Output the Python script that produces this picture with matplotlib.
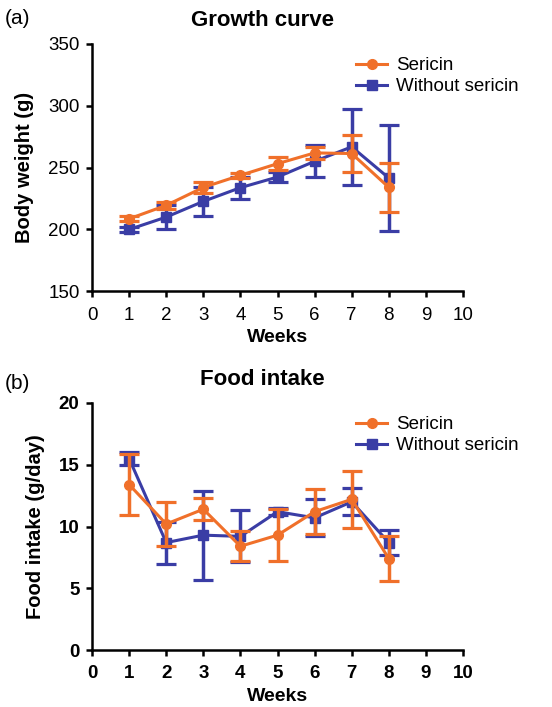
import matplotlib
matplotlib.use("Agg")
import matplotlib.pyplot as plt
from matplotlib.lines import Line2D

plt.rcParams['font.family'] = ['Liberation Sans', 'DejaVu Sans']

weeks = [1, 2, 3, 4, 5, 6, 7, 8]

bw_sericin = [208.6, 219.5, 234.0, 243.8, 253.2, 261.9, 261.4, 234.0]
bw_sericin_err = [2.0, 3.0, 4.5, 2.0, 5.5, 5.0, 15.0, 20.0]
bw_without = [200.0, 210.0, 222.7, 233.8, 242.4, 255.1, 266.8, 241.6]
bw_without_err = [2.0, 10.0, 12.0, 9.0, 4.0, 13.0, 31.0, 43.0]

fi_sericin = [13.4, 10.2, 11.4, 8.4, 9.3, 11.2, 12.2, 7.4]
fi_sericin_err = [2.5, 1.8, 0.9, 1.2, 2.1, 1.8, 2.3, 1.8]
fi_without = [15.5, 8.7, 9.3, 9.2, 11.2, 10.7, 12.0, 8.7]
fi_without_err = [0.5, 1.7, 3.6, 2.1, 0.3, 1.5, 1.1, 1.0]

labels = ['Sericin', 'Without sericin']

ORANGE = '#F0702A'
BLUE = '#3A3DA5'

fig = plt.figure(figsize=(5.52, 7.07), dpi=100)
ax1 = fig.add_axes([0.1667, 0.5880, 0.6721, 0.3498])
ax2 = fig.add_axes([0.1667, 0.0806, 0.6721, 0.3494])


def style(ax, ylim, yticks, ylabel, title, tick_bold):
    ax.set_xlim(0, 10)
    ax.set_ylim(*ylim)
    ax.set_xticks(range(0, 11))
    ax.set_yticks(yticks)
    for s in ['top', 'right']:
        ax.spines[s].set_visible(False)
    for s in ['left', 'bottom']:
        ax.spines[s].set_linewidth(1.8)
    ax.tick_params(width=1.8, length=4, labelsize=13.5)
    ax.tick_params(axis='x', pad=7)
    ax.tick_params(axis='y', pad=5)
    fw = 'bold' if tick_bold else 'normal'
    for lab in ax.get_xticklabels() + ax.get_yticklabels():
        lab.set_fontweight(fw)
    ax.set_xlabel('Weeks', fontsize=14, fontweight='bold', labelpad=4)
    ax.set_ylabel(ylabel, fontsize=14.5, fontweight='bold', labelpad=10)
    ax.set_title(title, fontsize=16, fontweight='bold', pad=13, x=0.46)


def plot_series(ax, y, e, color, marker, ms, z):
    ax.errorbar(weeks, y, yerr=e, color=color, marker=marker, markersize=ms,
                linewidth=2.2, elinewidth=2.5, capsize=7, capthick=2.3,
                clip_on=False, zorder=z)


def add_legend(ax):
    handles = [Line2D([], [], color=ORANGE, marker='o', markersize=7, linewidth=2.2),
               Line2D([], [], color=BLUE, marker='s', markersize=6.5, linewidth=2.2)]
    ax.legend(handles, labels, loc='upper left', bbox_to_anchor=(0.675, 1.0),
              frameon=False, fontsize=13.5, handlelength=1.7,
              handletextpad=0.45, labelspacing=0.2, borderaxespad=0.3)


plot_series(ax1, bw_without, bw_without_err, BLUE, 's', 6.5, 2)
plot_series(ax1, bw_sericin, bw_sericin_err, ORANGE, 'o', 7, 3)
style(ax1, (150, 350), [150, 200, 250, 300, 350], 'Body weight (g)', 'Growth curve', False)
add_legend(ax1)

plot_series(ax2, fi_without, fi_without_err, BLUE, 's', 6.5, 2)
plot_series(ax2, fi_sericin, fi_sericin_err, ORANGE, 'o', 7, 3)
style(ax2, (0, 20), [0, 5, 10, 15, 20], 'Food intake (g/day)', 'Food intake', True)
add_legend(ax2)

fig.text(0.008, 0.974, '(a)', fontsize=15, va='center')
fig.text(0.008, 0.458, '(b)', fontsize=15, va='center')

fig.savefig('out.png', dpi=100)
